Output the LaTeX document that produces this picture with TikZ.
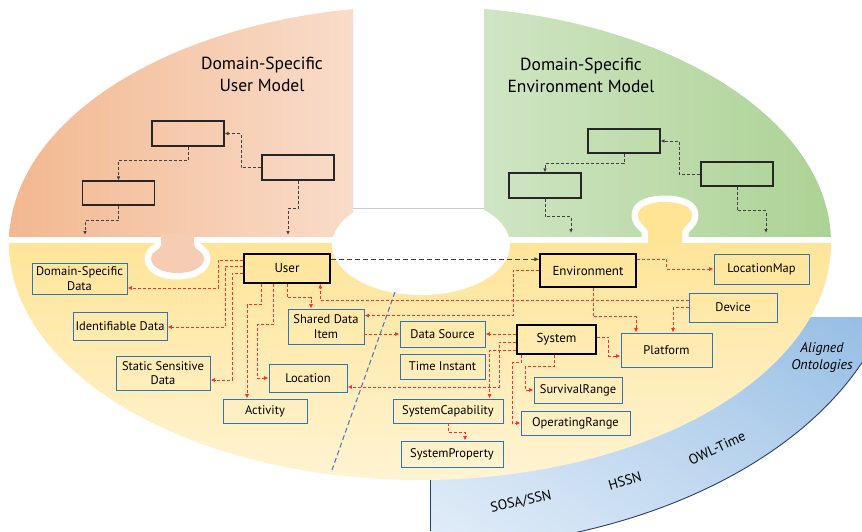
\documentclass[tikz,border=0pt]{standalone}
\usepackage{fontspec}
\setmainfont{PT Sans}
\usetikzlibrary{arrows.meta,calc,shadings}
\definecolor{boxblue}{RGB}{46,117,182}
\definecolor{orL}{RGB}{242,184,144}
\definecolor{orR}{RGB}{249,220,202}
\definecolor{orK}{RGB}{246,205,180}
\definecolor{grL}{RGB}{208,229,196}
\definecolor{grR}{RGB}{172,210,148}
\definecolor{yT}{RGB}{255,229,153}
\definecolor{yB}{RGB}{255,243,210}
\definecolor{yK}{RGB}{255,228,150}
\definecolor{bUR}{RGB}{150,190,228}
\definecolor{bUL}{RGB}{198,219,240}
\definecolor{bLL}{RGB}{224,236,248}
\definecolor{bLR}{RGB}{186,212,238}
\definecolor{navy}{RGB}{40,62,110}
\definecolor{redl}{RGB}{255,45,45}
\definecolor{dashblue}{RGB}{68,114,196}
\begin{document}
\begin{tikzpicture}[x=1pt,y=-1pt,
  box/.style={draw=boxblue, line width=0.9pt, align=center, inner sep=0pt,
    font=\fontsize{12.5}{14.5}\selectfont},
  mainbox/.style={draw=black, line width=1.5pt, align=center, inner sep=0pt,
    font=\fontsize{13}{15}\selectfont},
  emptybox/.style={draw=black!85, line width=1.1pt, minimum width=72pt, minimum height=25pt, inner sep=0pt},
  redarr/.style={draw=redl, dash pattern=on 3pt off 2pt, line width=0.9pt, -{Latex[length=4.5pt,width=4pt]}},
  blkarr/.style={draw=black!75, dash pattern=on 3pt off 2pt, line width=0.85pt, -{Latex[length=4pt,width=3.5pt]}},
  title/.style={align=center, font=\fontsize{17.5}{22}\selectfont},
  onto/.style={font=\fontsize{14}{16}\selectfont}
]
\useasboundingbox (0,0) rectangle (862,531);
\fill[white] (0,0) rectangle (862,531);

% blue band
\begin{scope}
  \clip (430,317) rectangle (862,531);
  \clip (420,243) ellipse [x radius=480, y radius=306];
  \shade[upper right=bUR, upper left=bUL, lower left=bLL, lower right=bLR] (430,317) rectangle (862,531);
\end{scope}
\begin{scope}
  \clip (430,317) rectangle (862,531);
  \draw[navy, line width=0.9pt] (420,243) ellipse [x radius=480, y radius=306];
\end{scope}
\draw[navy, line width=0.9pt] (430,455) -- (430,531);

% green region
\begin{scope}
  \clip (420,243) ellipse [x radius=411, y radius=237];
  \shade[left color=grL, right color=grR] (484,0) rectangle (831,236);
\end{scope}
% yellow knob outline
\path[draw=white, line width=13pt, line join=round]
  (648,245) -- (648,232) .. controls (648,227) and (638,224) .. (638,215)
  .. controls (638,206) and (651,202) .. (665,202)
  .. controls (679,202) and (692,206) .. (692,215)
  .. controls (692,224) and (682,227) .. (682,232) -- (682,245) -- cycle;
% yellow region
\begin{scope}
  \clip (420,243) ellipse [x radius=411, y radius=237];
  \shade[top color=yT, bottom color=yB] (0,243) rectangle (862,480);
\end{scope}
% orange knob outline
\path[draw=white, line width=13pt, line join=round]
  (161,234) -- (161,245) .. controls (161,250) and (151,251) .. (151,258)
  .. controls (151,268) and (164,273) .. (177.5,273)
  .. controls (191,273) and (204,268) .. (204,258)
  .. controls (204,251) and (194,250) .. (194,245) -- (194,234) -- cycle;
% orange region
\begin{scope}
  \clip (420,243) ellipse [x radius=411, y radius=237];
  \shade[left color=orL, right color=orR] (9,0) rectangle (353,236);
\end{scope}
% knob fills
\fill[yK]
  (648,245) -- (648,232) .. controls (648,227) and (638,224) .. (638,215)
  .. controls (638,206) and (651,202) .. (665,202)
  .. controls (679,202) and (692,206) .. (692,215)
  .. controls (692,224) and (682,227) .. (682,232) -- (682,245) -- cycle;
\fill[orK]
  (161,234) -- (161,245) .. controls (161,250) and (151,251) .. (151,258)
  .. controls (151,268) and (164,273) .. (177.5,273)
  .. controls (191,273) and (204,268) .. (204,258)
  .. controls (204,251) and (194,250) .. (194,245) -- (194,234) -- cycle;
% central hole
\fill[white] (421,245) ellipse [x radius=89, y radius=50];
\draw[black!20, line width=0.8pt] (353,208) -- (484,208);

% titles
\node[title] (t1) at (262,74) {Domain-Specific\\User Model};
\node[title] (t2) at (581,75) {Domain-Specific\\Environment Model};

% upper boxes
\node[emptybox] (O1) at (188,133.5) {};
\node[emptybox] (O2) at (298,167.5) {};
\node[emptybox, minimum height=24pt] (O3) at (118.5,193) {};
\node[emptybox, minimum height=24pt] (G1) at (624,141) {};
\node[emptybox, minimum height=24pt] (G2) at (737,174) {};
\node[emptybox] (G3) at (545,185.5) {};
\coordinate (o3end) at (85,235);
\coordinate (o2end) at (288,235);
\coordinate (g3end) at (571,233);
\coordinate (g2end) at (766,233);
\draw[blkarr] (O2.west) -- ++(-20,0) |- (O1.east);
\draw[blkarr] (O1.south) -- ++(0,14) -| (O3.north);
\draw[blkarr] (O3.south) -- ++(0,15) -| (o3end);
\draw[blkarr] (O2.south) -- ++(0,28) -| (o2end);
\draw[blkarr] (G2.west) -- ++(-21,0) |- (G1.east);
\draw[blkarr] (G1.south) -- ++(0,10) -| (G3.north);
\draw[blkarr] (G3.south) -- ++(0,18) -| (g3end);
\draw[blkarr] (G2.south) -- ++(0,24) -| (g2end);

% main nodes
\node[mainbox, minimum width=86pt, minimum height=29pt] (User) at (287,268.5) {User};
\node[mainbox, minimum width=96pt, minimum height=33pt] (Env) at (588,270.5) {Environment};
\node[mainbox, minimum width=79pt, minimum height=29pt] (System) at (556.5,339.5) {System};
\node[box, minimum width=95pt, minimum height=31pt] (DSD) at (79.5,278.5) {Domain-Specific\\Data};
\node[box, minimum width=94pt, minimum height=28pt] (IdD) at (120,326) {Identifiable Data};
\node[box, minimum width=94pt, minimum height=34pt] (SSD) at (163,373) {Static Sensitive\\Data};
\node[box, minimum width=84pt, minimum height=24pt] (Activity) at (265,411) {Activity};
\node[box, minimum width=78pt, minimum height=28pt] (Location) at (308,378) {Location};
\node[box, minimum width=76pt, minimum height=35pt] (SDI) at (326,326.5) {Shared Data\\Item};
\node[box, minimum width=95pt, minimum height=30pt] (LocMap) at (761.5,269) {LocationMap};
\node[box, minimum width=88pt, minimum height=29pt] (Device) at (733,307.5) {Device};
\node[box, minimum width=85pt, minimum height=26pt] (DataSrc) at (442.5,334) {Data Source};
\node[box, minimum width=91pt, minimum height=34pt] (Platform) at (666.5,350) {Platform};
\node[box, minimum width=85pt, minimum height=25pt] (TimeInst) at (442.5,366.5) {Time Instant};
\node[box, minimum width=88pt, minimum height=26pt] (Survival) at (578,390) {SurvivalRange};
\node[box, minimum width=110pt, minimum height=24pt] (SysCap) at (448,411) {SystemCapability};
\node[box, minimum width=109pt, minimum height=24pt] (OpRange) at (575.5,423) {OperatingRange};
\node[box, minimum width=102pt, minimum height=26pt] (SysProp) at (452,454) {SystemProperty};

% black dashed User -> Environment
\draw[draw=black!75, dash pattern=on 5pt off 3pt, line width=1.2pt, -{Latex[length=5pt,width=4.5pt]}]
  ([yshift=-6pt]User.north east) -- ([yshift=-6pt]Env.north west);

% blue dashed divider
\coordinate (d1) at (395,292);
\coordinate (d2) at (332,470);
\draw[dashblue, dash pattern=on 5pt off 3pt, line width=1pt] (d1) -- (d2);

% red connectors
\draw[redarr] ([yshift=-7pt]User.north west) -- ++(-25,0) |- ([yshift=-9.5pt]DSD.east);
\draw[redarr] ([yshift=-13pt]User.north west) -- ++(-18,0) |- ([yshift=-1pt]IdD.east);
\draw[redarr] ([yshift=-20pt]User.north west) -- ++(-11,0) |- ([yshift=-7pt]SSD.east);
\draw[redarr] ([xshift=18pt]User.south west) -- ++(0,21) -| ([xshift=-18pt]Activity.north);
\draw[redarr] ([xshift=30pt]User.south west) -- ++(0,41) -- ++(-16,0) |- (Location.west);
\draw[redarr] ([xshift=44pt]User.south west) -- ++(0,14) -| ([xshift=-15pt]SDI.north);
\draw[redarr] ([yshift=-8pt]Device.north west) -| ([xshift=77pt]User.south west);
\draw[redarr] ([yshift=-17pt]Env.north west) -- ++(-26,0) |- ([yshift=-7pt]SDI.north east);
\draw[redarr] (SDI.east |- DataSrc.west) -- (DataSrc.west);
\draw[redarr] (System.west |- DataSrc.east) -- (DataSrc.east);
\draw[redarr] ([yshift=-18pt]System.north west) -- ++(-17,0) |- ([yshift=-9pt]Location.east);
\draw[redarr] ([yshift=-26pt]System.north west) -| ([xshift=97pt]SysCap.north west);
\draw[redarr] ([xshift=5pt]System.south west) -- ++(0,8) -- ++(-9,0) |- (OpRange.west);
\draw[redarr] ([xshift=38pt]System.south west) -- ++(0,12) -- ++(-29,0) |- (Survival.west);
\draw[redarr] ([yshift=-13pt]System.north east) -- ++(12,0) |- ([yshift=-6pt]Platform.west);
\draw[redarr] ([xshift=5pt]Env.south) -- ++(0,29) -| ([xshift=-30.5pt]Platform.north);
\draw[redarr] ([yshift=-15pt]Device.north west) -| ([xshift=6.5pt]Platform.north);
\draw[redarr] ([yshift=-6pt]Env.north east) -- ++(30,0) |- (LocMap.west);
\draw[redarr] (SysCap.south) -- ++(0,9) -| ([xshift=13pt]SysProp.north);

% aligned ontologies
\node[align=center, font=\fontsize{14}{17}\selectfont\itshape] (ao) at (822,357) {Aligned\\Ontologies};
\node[onto, rotate=12] (sosa) at (521,502) {SOSA/SSN};
\node[onto, rotate=16] (hssn) at (625,481) {HSSN};
\node[onto, rotate=25] (owl) at (717,448) {OWL-Time};
\end{tikzpicture}
\end{document}
